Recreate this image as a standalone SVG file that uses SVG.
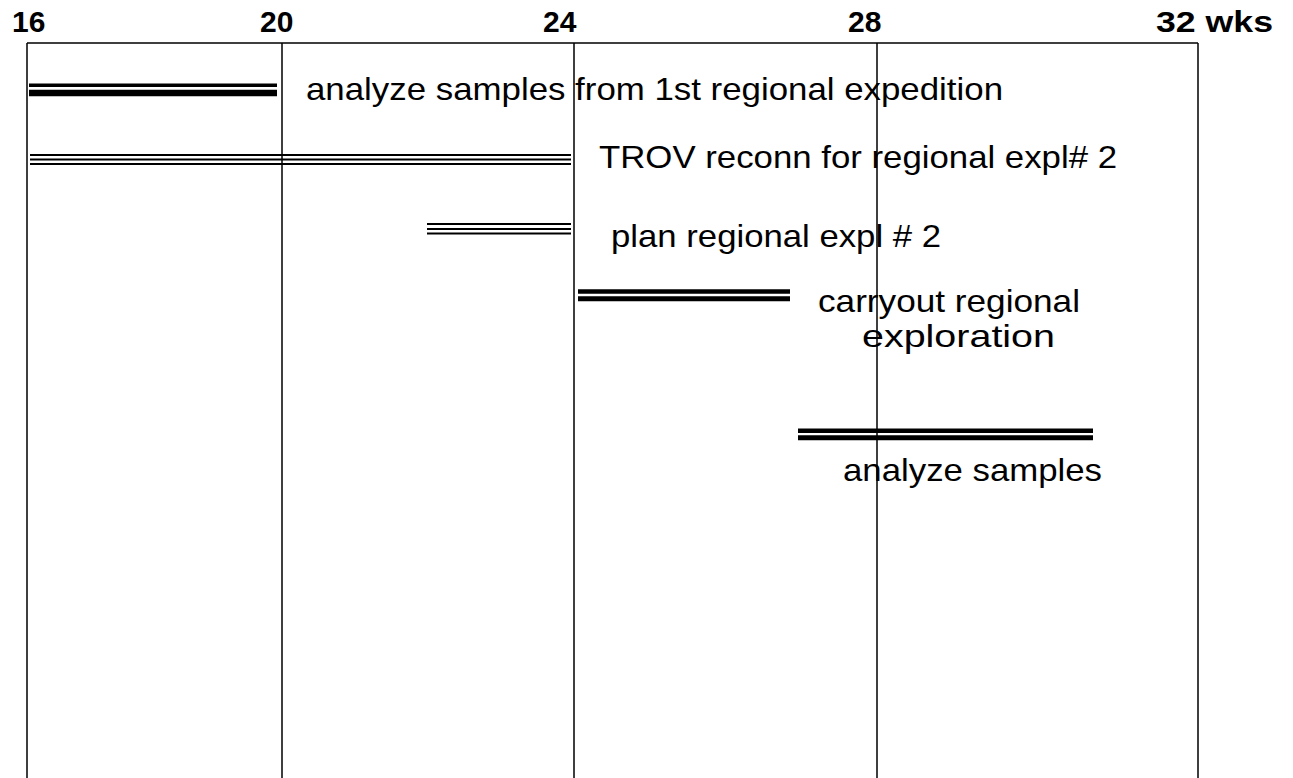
<svg xmlns="http://www.w3.org/2000/svg" width="1293" height="778" viewBox="0 0 1293 778">
<style>
.grid{stroke:#000;stroke-width:1.5;fill:none}
.bar{stroke:#000;fill:none}
.axis{font-family:"Liberation Sans",Arial,sans-serif;font-weight:bold;font-size:30px;fill:#000}
.lbl{font-family:"Liberation Sans",Arial,sans-serif;font-size:32px;fill:#000}
</style>
<rect width="1293" height="778" fill="#fff"/>
<g id="axis">
<text class="axis" x="12" y="32">16</text>
<text class="axis" x="260" y="32">20</text>
<text class="axis" x="543" y="32">24</text>
<text class="axis" x="848" y="32">28</text>
<text class="axis" x="1156" y="32" textLength="117" lengthAdjust="spacingAndGlyphs">32 wks</text>
<path class="grid" d="M27,43 H1198 M27,43 V778 M282,43 V778 M574,43 V778 M877,43 V778 M1198,43 V778"/>
</g>
<g id="task1">
<path class="bar" stroke-width="3.5" d="M29,85.3 H277"/>
<path class="bar" stroke-width="6.5" d="M29,93 H277"/>
<text class="lbl" x="306" y="100" textLength="697" lengthAdjust="spacingAndGlyphs">analyze samples from 1st regional expedition</text>
</g>
<g id="task2">
<path class="bar" stroke-width="2" d="M30,155 H571 M30,159.5 H571 M30,164 H571"/>
<text class="lbl" x="599" y="168" textLength="518" lengthAdjust="spacingAndGlyphs">TROV reconn for regional expl# 2</text>
</g>
<g id="task3">
<path class="bar" stroke-width="2" d="M427,224 H571 M427,229 H571 M427,233.5 H571"/>
<text class="lbl" x="611" y="247" textLength="330" lengthAdjust="spacingAndGlyphs">plan regional expl # 2</text>
</g>
<g id="task4">
<path class="bar" stroke-width="4.5" d="M578,291.6 H790"/>
<path class="bar" stroke-width="5" d="M578,298.8 H790"/>
<text class="lbl" x="818" y="312" textLength="262" lengthAdjust="spacingAndGlyphs">carryout regional</text>
<text class="lbl" x="862" y="347" textLength="193" lengthAdjust="spacingAndGlyphs">exploration</text>
</g>
<g id="task5">
<path class="bar" stroke-width="4.5" d="M798,430.8 H1093"/>
<path class="bar" stroke-width="5" d="M798,437.8 H1093"/>
<text class="lbl" x="843" y="481" textLength="259" lengthAdjust="spacingAndGlyphs">analyze samples</text>
</g>
</svg>
